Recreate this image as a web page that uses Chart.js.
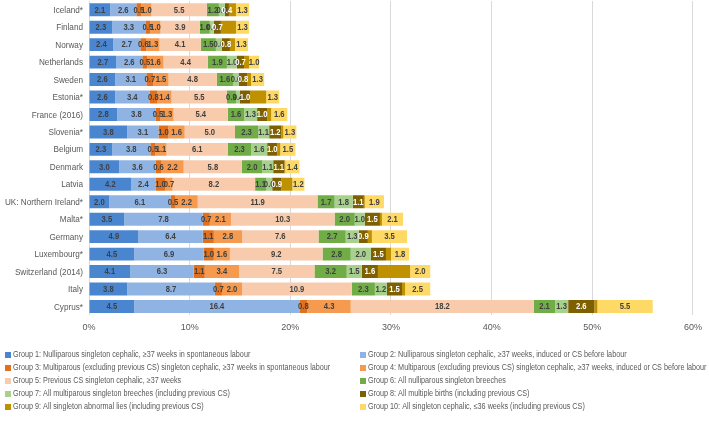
<!DOCTYPE html>
<html>
<head>
<meta charset="utf-8">
<script src="https://cdn.jsdelivr.net/npm/chart.js@4"></script>
<style>
  body { margin: 0; background: #fff; }
  #wrap { width: 709px; height: 421px; }
</style>
</head>
<body>
<div id="wrap"><canvas id="myChart" width="709" height="421"></canvas></div>
<script>
const countries = ['Iceland*', 'Finland', 'Norway', 'Netherlands', 'Sweden', 'Estonia*', 'France (2016)',
  'Slovenia*', 'Belgium', 'Denmark', 'Latvia', 'UK: Northern Ireland*', 'Malta*', 'Germany',
  'Luxembourg*', 'Switzerland (2014)', 'Italy', 'Cyprus*'];

const g1 = [2.1, 2.3, 2.4, 2.7, 2.6, 2.6, 2.8, 3.8, 2.3, 3.0, 4.2, 2.0, 3.5, 4.9, 4.5, 4.1, 3.8, 4.5];
const g2 = [2.6, 3.3, 2.7, 2.6, 3.1, 3.4, 3.8, 3.1, 3.8, 3.6, 2.4, 6.1, 7.8, 6.4, 6.9, 6.3, 8.7, 16.4];
const g3 = [0.5, 0.5, 0.6, 0.5, 0.7, 0.8, 0.5, 1.0, 0.5, 0.6, 1.0, 0.5, 0.7, 1.1, 1.0, 1.1, 0.7, 0.8];
const g4 = [1.0, 1.0, 1.3, 1.6, 1.5, 1.4, 1.3, 1.6, 1.1, 2.2, 0.7, 2.2, 2.1, 2.8, 1.6, 3.4, 2.0, 4.3];
const g5 = [5.5, 3.9, 4.1, 4.4, 4.8, 5.5, 5.4, 5.0, 6.1, 5.8, 8.2, 11.9, 10.3, 7.6, 9.2, 7.5, 10.9, 18.2];
const g6 = [1.2, 1.0, 1.5, 1.9, 1.6, 0.9, 1.6, 2.3, 2.3, 2.0, 1.1, 1.7, 2.0, 2.7, 2.8, 3.2, 2.3, 2.1];
const g7 = [0.6, 0.4, 0.6, 1.0, 0.6, 0.4, 1.3, 1.1, 1.6, 1.1, 0.6, 1.8, 1.0, 1.3, 2.0, 1.5, 1.2, 1.3];
const g8 = [0.4, 0.7, 0.8, 0.7, 0.8, 1.0, 1.0, 1.2, 1.0, 1.1, 0.9, 1.1, 1.5, 0.9, 1.5, 1.6, 1.5, 2.6];
const g9 = [0.7, 1.5, 0.5, 0.5, 0.4, 1.6, 0.4, 0.2, 0.3, 0.1, 1.1, 0.1, 0.2, 0.4, 0.5, 3.2, 0.3, 0.3];
const g10 = [1.3, 1.3, 1.3, 1.0, 1.3, 1.3, 1.6, 1.3, 1.5, 1.4, 1.2, 1.9, 2.1, 3.5, 1.8, 2.0, 2.5, 5.5];

const groupNames = [
  'Group 1: Nulliparous singleton cephalic, \u226537 weeks in spontaneous labour',
  'Group 2: Nulliparous singleton cephalic, \u226537 weeks, induced or CS before labour',
  'Group 3: Multiparous (excluding previous CS) singleton cephalic, \u226537 weeks in spontaneous labour',
  'Group 4: Multiparous (excluding previous CS) singleton cephalic, \u226537 weeks, induced or CS before labour',
  'Group 5: Previous CS singleton cephalic, \u226537 weeks',
  'Group 6: All nulliparous singleton breeches',
  'Group 7: All multiparous singleton breeches (including previous CS)',
  'Group 8: All multiple births (including previous CS)',
  'Group 9: All singleton abnormal lies (including previous CS)',
  'Group 10: All singleton cephalic, \u226436 weeks (including previous CS)'
];
const groupColors = ['#4A86CF', '#8FB4E3', '#E0701E', '#F59A4E', '#F8CBAD',
  '#70AD47', '#A9D18E', '#7F6000', '#BF9000', '#FFD966'];
const xTicks = [0, 10, 20, 30, 40, 50, 60];

const series = [g1, g2, g3, g4, g5, g6, g7, g8, g9, g10];
const textFont = "'Liberation Sans', Arial, sans-serif";

// draw text squeezed a bit horizontally (the original uses a narrow font)
function narrowText(ctx, text, x, y, sx) {
  ctx.save();
  ctx.translate(x, y);
  ctx.scale(sx, 1);
  ctx.fillText(text, 0, 0);
  ctx.restore();
}

// value labels inside the segments (group 9 labels are not shown in the original)
const segmentLabels = {
  id: 'segmentLabels',
  afterDatasetsDraw(chart) {
    const ctx = chart.ctx;
    ctx.save();
    ctx.font = 'bold 8.5px ' + textFont;
    ctx.textAlign = 'center';
    ctx.textBaseline = 'middle';
    chart.data.datasets.forEach((ds, i) => {
      if (i === 8) return;
      const meta = chart.getDatasetMeta(i);
      meta.data.forEach((bar, j) => {
        ctx.fillStyle = i === 7 ? '#ffffff' : '#404040';
        narrowText(ctx, ds.data[j].toFixed(1), (bar.x + bar.base) / 2, bar.y + 0.5, 0.9);
      });
    });
    ctx.restore();
  }
};

// country names, right aligned next to the bars
const countryLabels = {
  id: 'countryLabels',
  afterDraw(chart) {
    const ctx = chart.ctx;
    const y = chart.scales.y;
    ctx.save();
    ctx.font = '9.5px ' + textFont;
    ctx.textAlign = 'right';
    ctx.textBaseline = 'middle';
    ctx.fillStyle = '#595959';
    chart.data.labels.forEach((lab, i) => {
      narrowText(ctx, lab, 83, y.getPixelForValue(i) + 0.5, 0.86);
    });
    ctx.restore();
  }
};

// two-column legend under the chart
const twoColLegend = {
  id: 'twoColLegend',
  afterDraw(chart) {
    const ctx = chart.ctx;
    ctx.save();
    ctx.font = '8.5px ' + textFont;
    ctx.textBaseline = 'middle';
    ctx.textAlign = 'left';
    chart.data.datasets.forEach((ds, i) => {
      const col = i % 2, row = Math.floor(i / 2);
      const x = col === 0 ? 5 : 360;
      const y = 355 + row * 13;
      ctx.fillStyle = ds.backgroundColor;
      ctx.fillRect(x, y - 3, 6, 6);
      ctx.fillStyle = '#595959';
      narrowText(ctx, ds.label, x + 8, y, 0.85);
    });
    ctx.restore();
  }
};

new Chart(document.getElementById('myChart'), {
  type: 'bar',
  data: {
    labels: countries,
    datasets: series.map((vals, i) => ({
      label: groupNames[i],
      data: vals,
      backgroundColor: groupColors[i],
      borderWidth: 0,
      barPercentage: 0.74,
      categoryPercentage: 1.0
    }))
  },
  options: {
    indexAxis: 'y',
    responsive: false,
    animation: false,
    layout: { padding: { top: 1, right: 11, bottom: 81, left: 0 } },
    plugins: {
      legend: { display: false },
      tooltip: { enabled: false }
    },
    scales: {
      x: {
        stacked: true,
        min: 0,
        max: 60,
        afterBuildTicks: (scale) => { scale.ticks = xTicks.map(v => ({ value: v })); },
        grid: { color: '#D9D9D9', drawTicks: false },
        border: { display: false },
        ticks: {
          padding: 7,
          color: '#595959',
          font: { family: textFont, size: 9 },
          callback: (v) => v + '%'
        }
      },
      y: {
        stacked: true,
        grid: { display: false },
        border: { display: false },
        afterFit: (scale) => { scale.width = 89; scale.paddingTop = 0; scale.paddingBottom = 0; },
        ticks: { display: false }
      }
    }
  },
  plugins: [segmentLabels, countryLabels, twoColLegend]
});
</script>
</body>
</html>
